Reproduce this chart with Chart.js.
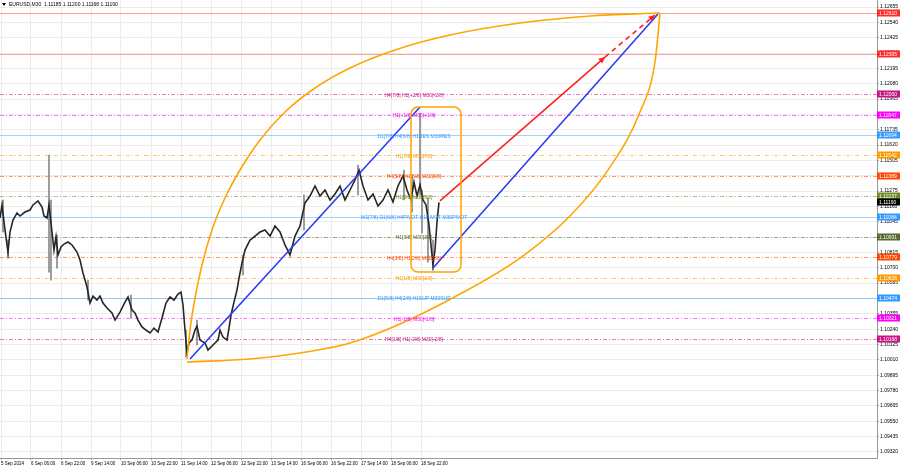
<!DOCTYPE html>
<html>
<head>
<meta charset="utf-8">
<script src="https://cdn.jsdelivr.net/npm/chart.js@4.4.1/dist/chart.umd.min.js"></script>
<style>
  html, body { margin: 0; padding: 0; background: #fff; }
</style>
</head>
<body>
<canvas id="chart" width="900" height="468"></canvas>
<script>
// price path, bar index vs close
const priceBars = [0,2,5,8,10,13,17,20,25,30,33,38,42,44,47,49,52,54,56,58,61,64,68,72,77,80,83,87,90,93,97,100,103,107,112,115,120,125,128,132,135,138,142,146,150,154,158,162,166,170,174,178,181,183,185,187,189,192,195,197,200,205,208,213,218,220,223,227,229,231,234,237,239,242,245,250,255,260,265,270,275,280,285,290,295,300,305,310,315,320,325,330,335,340,345,350,355,359,363,368,373,378,383,388,393,398,403,407,411,414,417,420,423,426,429,431,433,435,437,439];
const priceClose = [1.11073,1.11171,1.10983,1.10818,1.10968,1.11058,1.11111,1.11088,1.11118,1.11133,1.11171,1.11201,1.11156,1.11088,1.11073,1.11171,1.10968,1.10833,1.10931,1.10796,1.10856,1.10878,1.10893,1.10871,1.10818,1.10758,1.10661,1.10556,1.10436,1.10488,1.10458,1.10488,1.10436,1.10398,1.10361,1.10308,1.10368,1.10443,1.10481,1.10383,1.10361,1.10308,1.10256,1.10233,1.10211,1.10248,1.10218,1.10323,1.10436,1.10481,1.10458,1.10503,1.10518,1.10421,1.10233,1.10069,1.10136,1.10158,1.10233,1.10263,1.10158,1.10136,1.10083,1.10121,1.10158,1.10233,1.10181,1.10158,1.10248,1.10346,1.10443,1.10533,1.10623,1.10736,1.10833,1.10908,1.10938,1.10968,1.10983,1.10938,1.11013,1.10968,1.10871,1.10796,1.10938,1.11013,1.11186,1.11238,1.11313,1.11238,1.11283,1.11208,1.11253,1.11313,1.11208,1.11283,1.11358,1.11433,1.11313,1.11208,1.11253,1.11163,1.11208,1.11283,1.11193,1.11313,1.11388,1.11283,1.11208,1.11343,1.11238,1.11321,1.11208,1.11171,1.11021,1.10871,1.10721,1.10833,1.11043,1.11190];

// high/low wicks
const wickBars = [3,8,49,51,57,88,131,186,197,243,304,358,404,412,420,422,428,433];
const wickHigh = [1.11208,1.10908,1.11545,1.11208,1.10946,1.10608,1.10496,1.10233,1.10308,1.10796,1.11246,1.11470,1.11433,1.11395,1.11860,1.11283,1.11223,1.10908];
const wickLow  = [1.10968,1.10773,1.10668,1.10608,1.10698,1.10458,1.10323,1.10031,1.10121,1.10646,1.10983,1.11246,1.11208,1.11118,1.11246,1.10961,1.10743,1.10683];

// trend lines
const blueLine1Bars = [190, 420];
const blueLine1 = [1.10016, 1.11905];
const blueLine2Bars = [433, 658];
const blueLine2 = [1.10698, 1.12603];
const redLineBars = [440, 605];
const redLine = [1.11201, 1.12280];
const redDashBars = [605, 655];
const redDash = [1.12280, 1.12595];

// orange arcs
const upperArcBars = [187,190,195,202,212,225,240,260,285,315,350,395,450,520,590,660];
const upperArc = [1.10016,1.10234,1.10473,1.10721,1.10983,1.11223,1.11433,1.11658,1.11868,1.12048,1.12198,1.12333,1.12445,1.12535,1.12588,1.12610];
const lowerArcBars = [187,250,300,350,400,460,520,570,610,640,655,660];
const lowerArc = [1.09994,1.10016,1.10061,1.10136,1.10278,1.10503,1.10773,1.11088,1.11455,1.11868,1.12243,1.12603];

// rounded box
const boxBars = [411, 461];
const boxPrices = [1.10668, 1.11905];

// murrey levels
const levelPrices = [1.12610,1.12305,1.12000,1.11847,1.11694,1.11542,1.11389,1.11237,1.11084,1.10931,1.10779,1.10626,1.10474,1.10321,1.10168];
const levelTexts = ["","","H4[7/8] H1[+2/8] M30[-2/8]","H1[+1/8] M30[+1/8]","D1[7/8] H4[6/8] H1RES M30RES","H1[7/8] M30[7/8]","H4[5/8] H1[6/8] M30[6/8]","H1[5/8] M30[5/8]","W1[7/8] D1[6/8] H4PIVOT H1PIVOT M30PIVOT","H1[3/8] M30[3/8]","H4[3/8] H1[2/8] M30[2/8]","H1[1/8] M30[1/8]","D1[5/8] H4[2/8] H1SUP M30SUP","H1[-1/8] M30[-1/8]","H4[1/8] H1[-2/8] M30[-2/8]"];
const levelColors = ["#ff2a2a","#ff2a2a","#c71585","#ff00ff","#3399ff","#ff9900","#ff4500","#6b8e23","#3399ff","#556b2f","#ff4500","#ff9900","#3399ff","#ff00ff","#c71585"];
const levelDashed = [false,false,true,true,false,true,true,true,false,true,true,true,false,true,true];
const labelBar = 414;
const lastPrice = 1.11190;

const yTicks = [1.12655,1.12540,1.12425,1.12310,1.12195,1.12080,1.11965,1.11850,1.11735,1.11620,1.11505,1.11390,1.11275,1.11160,1.11045,1.10930,1.10815,1.10700,1.10585,1.10470,1.10355,1.10240,1.10125,1.10010,1.09895,1.09780,1.09665,1.09550,1.09435,1.09320];
const xTickBars = [1,31,61,91,121,151,181,211,241,271,301,331,361,391,421];
const xTickLabels = ["5 Sep 2024","6 Sep 06:00","6 Sep 22:00","9 Sep 14:00","10 Sep 06:00","10 Sep 22:00","11 Sep 14:00","12 Sep 06:00","12 Sep 22:00","13 Sep 14:00","16 Sep 06:00","16 Sep 22:00","17 Sep 14:00","18 Sep 06:00","18 Sep 22:00"];
const title = "EURUSD,M30  1.11185 1.11200 1.11168 1.11190";

const FONT = "'Liberation Sans', Arial, sans-serif";
const pts = (xs, ys) => xs.map((x, i) => ({ x, y: ys[i] }));

const overlay = {
  id: "overlay",
  beforeDatasetsDraw(chart) {
    const { ctx, chartArea: a, scales: { y } } = chart;
    ctx.save();
    ctx.lineWidth = 1;
    levelPrices.forEach((p, i) => {
      const py = Math.round(y.getPixelForValue(p)) + 0.5;
      ctx.strokeStyle = levelColors[i];
      ctx.globalAlpha = levelDashed[i] ? 0.55 : 0.45;
      ctx.setLineDash(levelDashed[i] ? [4, 2, 1, 2] : []);
      ctx.beginPath();
      ctx.moveTo(a.left, py);
      ctx.lineTo(a.right, py);
      ctx.stroke();
    });
    ctx.restore();
  },
  afterDatasetsDraw(chart) {
    const { ctx, scales: { x, y } } = chart;
    ctx.save();
    // level captions
    ctx.font = "5px " + FONT;
    ctx.textAlign = "center";
    ctx.textBaseline = "middle";
    levelTexts.forEach((t, i) => {
      if (!t) return;
      ctx.fillStyle = levelColors[i];
      ctx.fillText(t, x.getPixelForValue(labelBar), y.getPixelForValue(levelPrices[i]) + 1);
    });
    // rounded box
    const bx0 = x.getPixelForValue(boxBars[0]), bx1 = x.getPixelForValue(boxBars[1]);
    const by0 = y.getPixelForValue(boxPrices[1]), by1 = y.getPixelForValue(boxPrices[0]);
    ctx.strokeStyle = "#ffa500";
    ctx.lineWidth = 1.5;
    ctx.beginPath();
    ctx.roundRect(bx0, by0, bx1 - bx0, by1 - by0, 7);
    ctx.stroke();
    // arrow heads on the red line
    const arrow = (x0, y0, x1, y1) => {
      const ang = Math.atan2(y1 - y0, x1 - x0);
      ctx.fillStyle = "#ff2020";
      ctx.beginPath();
      ctx.moveTo(x1, y1);
      ctx.lineTo(x1 - 7 * Math.cos(ang - 0.45), y1 - 7 * Math.sin(ang - 0.45));
      ctx.lineTo(x1 - 7 * Math.cos(ang + 0.45), y1 - 7 * Math.sin(ang + 0.45));
      ctx.closePath();
      ctx.fill();
    };
    arrow(x.getPixelForValue(redLineBars[0]), y.getPixelForValue(redLine[0]), x.getPixelForValue(redLineBars[1]), y.getPixelForValue(redLine[1]));
    arrow(x.getPixelForValue(redDashBars[0]), y.getPixelForValue(redDash[0]), x.getPixelForValue(redDashBars[1]), y.getPixelForValue(redDash[1]));
    ctx.restore();
  },
  afterDraw(chart) {
    const { ctx, chartArea: a, scales: { y } } = chart;
    ctx.save();
    ctx.font = "5px " + FONT;
    ctx.textBaseline = "middle";
    ctx.textAlign = "left";
    const box = (p, bg) => {
      const py = Math.round(y.getPixelForValue(p));
      ctx.fillStyle = bg;
      ctx.fillRect(a.right, py - 3.5, 23, 7);
      ctx.fillStyle = "#fff";
      ctx.fillText(p.toFixed(5), a.right + 2, py + 0.5);
    };
    levelPrices.forEach((p, i) => box(p, levelColors[i]));
    box(lastPrice, "#000");
    // title
    ctx.fillStyle = "#000";
    ctx.beginPath();
    ctx.moveTo(2, 3); ctx.lineTo(6, 3); ctx.lineTo(4, 6); ctx.closePath();
    ctx.fill();
    ctx.fillText(title, 9, 5);
    ctx.restore();
  }
};

new Chart(document.getElementById("chart"), {
  type: "line",
  data: {
    datasets: [
      { data: pts(wickBars, wickLow).map((d, i) => ({ x: d.x, y: [wickLow[i], wickHigh[i]] })), type: "bar", backgroundColor: "#8a8a8a", barThickness: 1, order: 2 },
      { data: pts(priceBars, priceClose), borderColor: "#262626", borderWidth: 1.6, pointRadius: 0, tension: 0, order: 1 },
      { data: pts(upperArcBars, upperArc), borderColor: "#ffa500", borderWidth: 1.6, pointRadius: 0, cubicInterpolationMode: "monotone", order: 0 },
      { data: pts(lowerArcBars, lowerArc), borderColor: "#ffa500", borderWidth: 1.6, pointRadius: 0, cubicInterpolationMode: "monotone", order: 0 },
      { data: pts(blueLine1Bars, blueLine1), borderColor: "#2b3cf0", borderWidth: 1.6, pointRadius: 0, order: 0 },
      { data: pts(blueLine2Bars, blueLine2), borderColor: "#2b3cf0", borderWidth: 1.6, pointRadius: 0, order: 0 },
      { data: pts(redLineBars, redLine), borderColor: "#ff2020", borderWidth: 1.6, pointRadius: 0, order: 0 },
      { data: pts(redDashBars, redDash), borderColor: "#ff2020", borderWidth: 1.6, borderDash: [5, 4], pointRadius: 0, order: 0 }
    ]
  },
  options: {
    responsive: false,
    animation: false,
    layout: { padding: 0 },
    plugins: { legend: { display: false }, tooltip: { enabled: false } },
    scales: {
      x: {
        type: "linear", min: 0, max: 877, offset: false,
        afterBuildTicks: s => { s.ticks = xTickBars.map(v => ({ value: v })); },
        afterFit: s => { s.height = 10; s.paddingLeft = 0; s.paddingRight = 0; },
        ticks: { callback: (v, i) => xTickLabels[i], autoSkip: false, maxRotation: 0, align: "start", padding: 1, color: "#000", font: { family: FONT, size: 4.5 } },
        grid: { color: "#ececec", tickColor: "#999", tickLength: 2, offset: false },
        border: { color: "#999" }
      },
      y: {
        position: "right", min: 1.09274, max: 1.127075,
        afterBuildTicks: s => { s.ticks = yTicks.map(v => ({ value: v })); },
        afterFit: s => { s.width = 23; s.paddingTop = 0; s.paddingBottom = 0; },
        ticks: { callback: v => v.toFixed(5), padding: 1, color: "#000", font: { family: FONT, size: 5 } },
        grid: { color: "#ececec", tickColor: "#999", tickLength: 2 },
        border: { color: "#999" }
      }
    }
  },
  plugins: [overlay]
});
</script>
</body>
</html>
